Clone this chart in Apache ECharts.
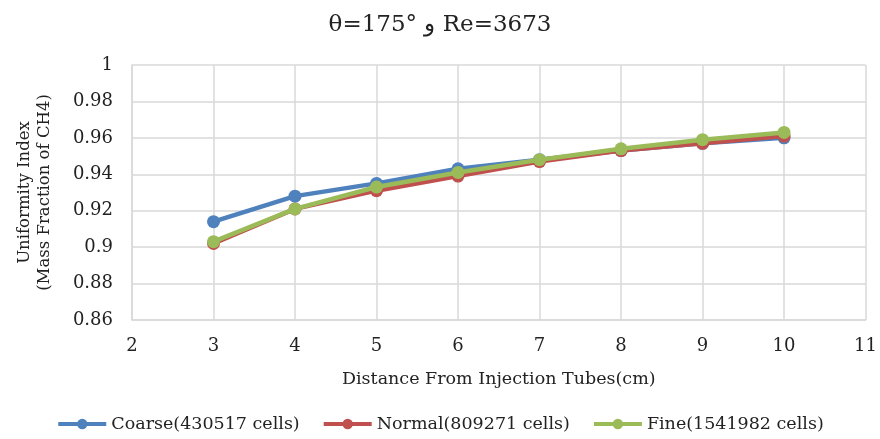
<!DOCTYPE html>
<html><head><meta charset="utf-8">
<script src="https://cdn.jsdelivr.net/npm/echarts@6/dist/echarts.min.js"></script>
<style>html,body{margin:0;padding:0;background:#fff}#c{width:880px;height:439px}</style>
</head><body><div id="c"></div>
<script>
const distances = [3, 4, 5, 6, 7, 8, 9, 10];
const coarse = [0.914, 0.928, 0.935, 0.943, 0.948, 0.953, 0.957, 0.960];
const normal = [0.902, 0.921, 0.931, 0.939, 0.947, 0.953, 0.957, 0.961];
const fine   = [0.903, 0.921, 0.933, 0.941, 0.948, 0.954, 0.959, 0.963];
const seriesNames = ['Coarse(430517 cells)', 'Normal(809271 cells)', 'Fine(1541982 cells)'];
const colors = ['#4F81BD', '#C0504D', '#9BBB59'];
const titleText = 'θ=175° و Re=3673';

const serif = '"DejaVu Serif", "Liberation Serif", serif';
const chart = echarts.init(document.getElementById('c'), null, {renderer: 'canvas'});
const mk = (name, vals, i) => ({
  name, type: 'line', data: distances.map((d, k) => [d, vals[k]]),
  symbol: 'circle', symbolSize: 13, lineStyle: {width: 4.5, color: colors[i]},
  itemStyle: {color: colors[i]}, z: 2 + i
});
chart.setOption({
  animation: false,
  color: colors,
  title: {text: titleText, left: 'center', top: 9,
    textStyle: {fontFamily: serif, fontSize: 23, fontWeight: 'normal', color: '#222'}},
  grid: {left: 132, right: 12, top: 65, bottom: 119, containLabel: false},
  xAxis: {type: 'value', min: 2, max: 11, interval: 1,
    name: 'Distance From Injection Tubes(cm)', nameLocation: 'middle', nameGap: 50,
    nameTextStyle: {fontFamily: serif, fontSize: 17.5, color: '#222'},
    axisLine: {show: true, lineStyle: {color: '#d9d9d9', width: 1.5}},
    axisTick: {show: false},
    axisLabel: {fontFamily: serif, fontSize: 18, color: '#222', margin: 17},
    splitLine: {show: true, lineStyle: {color: '#d9d9d9', width: 1.5}}},
  yAxis: {type: 'value', min: 0.86, max: 1, interval: 0.02,
    name: 'Uniformity Index\n(Mass Fraction of CH4)', nameLocation: 'middle', nameGap: 77,
    nameTextStyle: {fontFamily: serif, fontSize: 16.5, color: '#222', lineHeight: 20},
    axisLine: {show: true, lineStyle: {color: '#d9d9d9', width: 1.5}},
    axisTick: {show: false},
    axisLabel: {fontFamily: serif, fontSize: 18, color: '#222', margin: 19,
      formatter: v => String(parseFloat(v.toFixed(2)))},
    splitLine: {show: true, lineStyle: {color: '#d9d9d9', width: 1.5}}},
  legend: {top: 415, left: 'center', padding: 0, itemWidth: 48, itemHeight: 13, itemGap: 22,
    lineStyle: {width: 4},
    textStyle: {fontFamily: serif, fontSize: 17.5, color: '#222'},
    data: seriesNames},
  series: [mk(seriesNames[0], coarse, 0), mk(seriesNames[1], normal, 1), mk(seriesNames[2], fine, 2)]
});
</script></body></html>
